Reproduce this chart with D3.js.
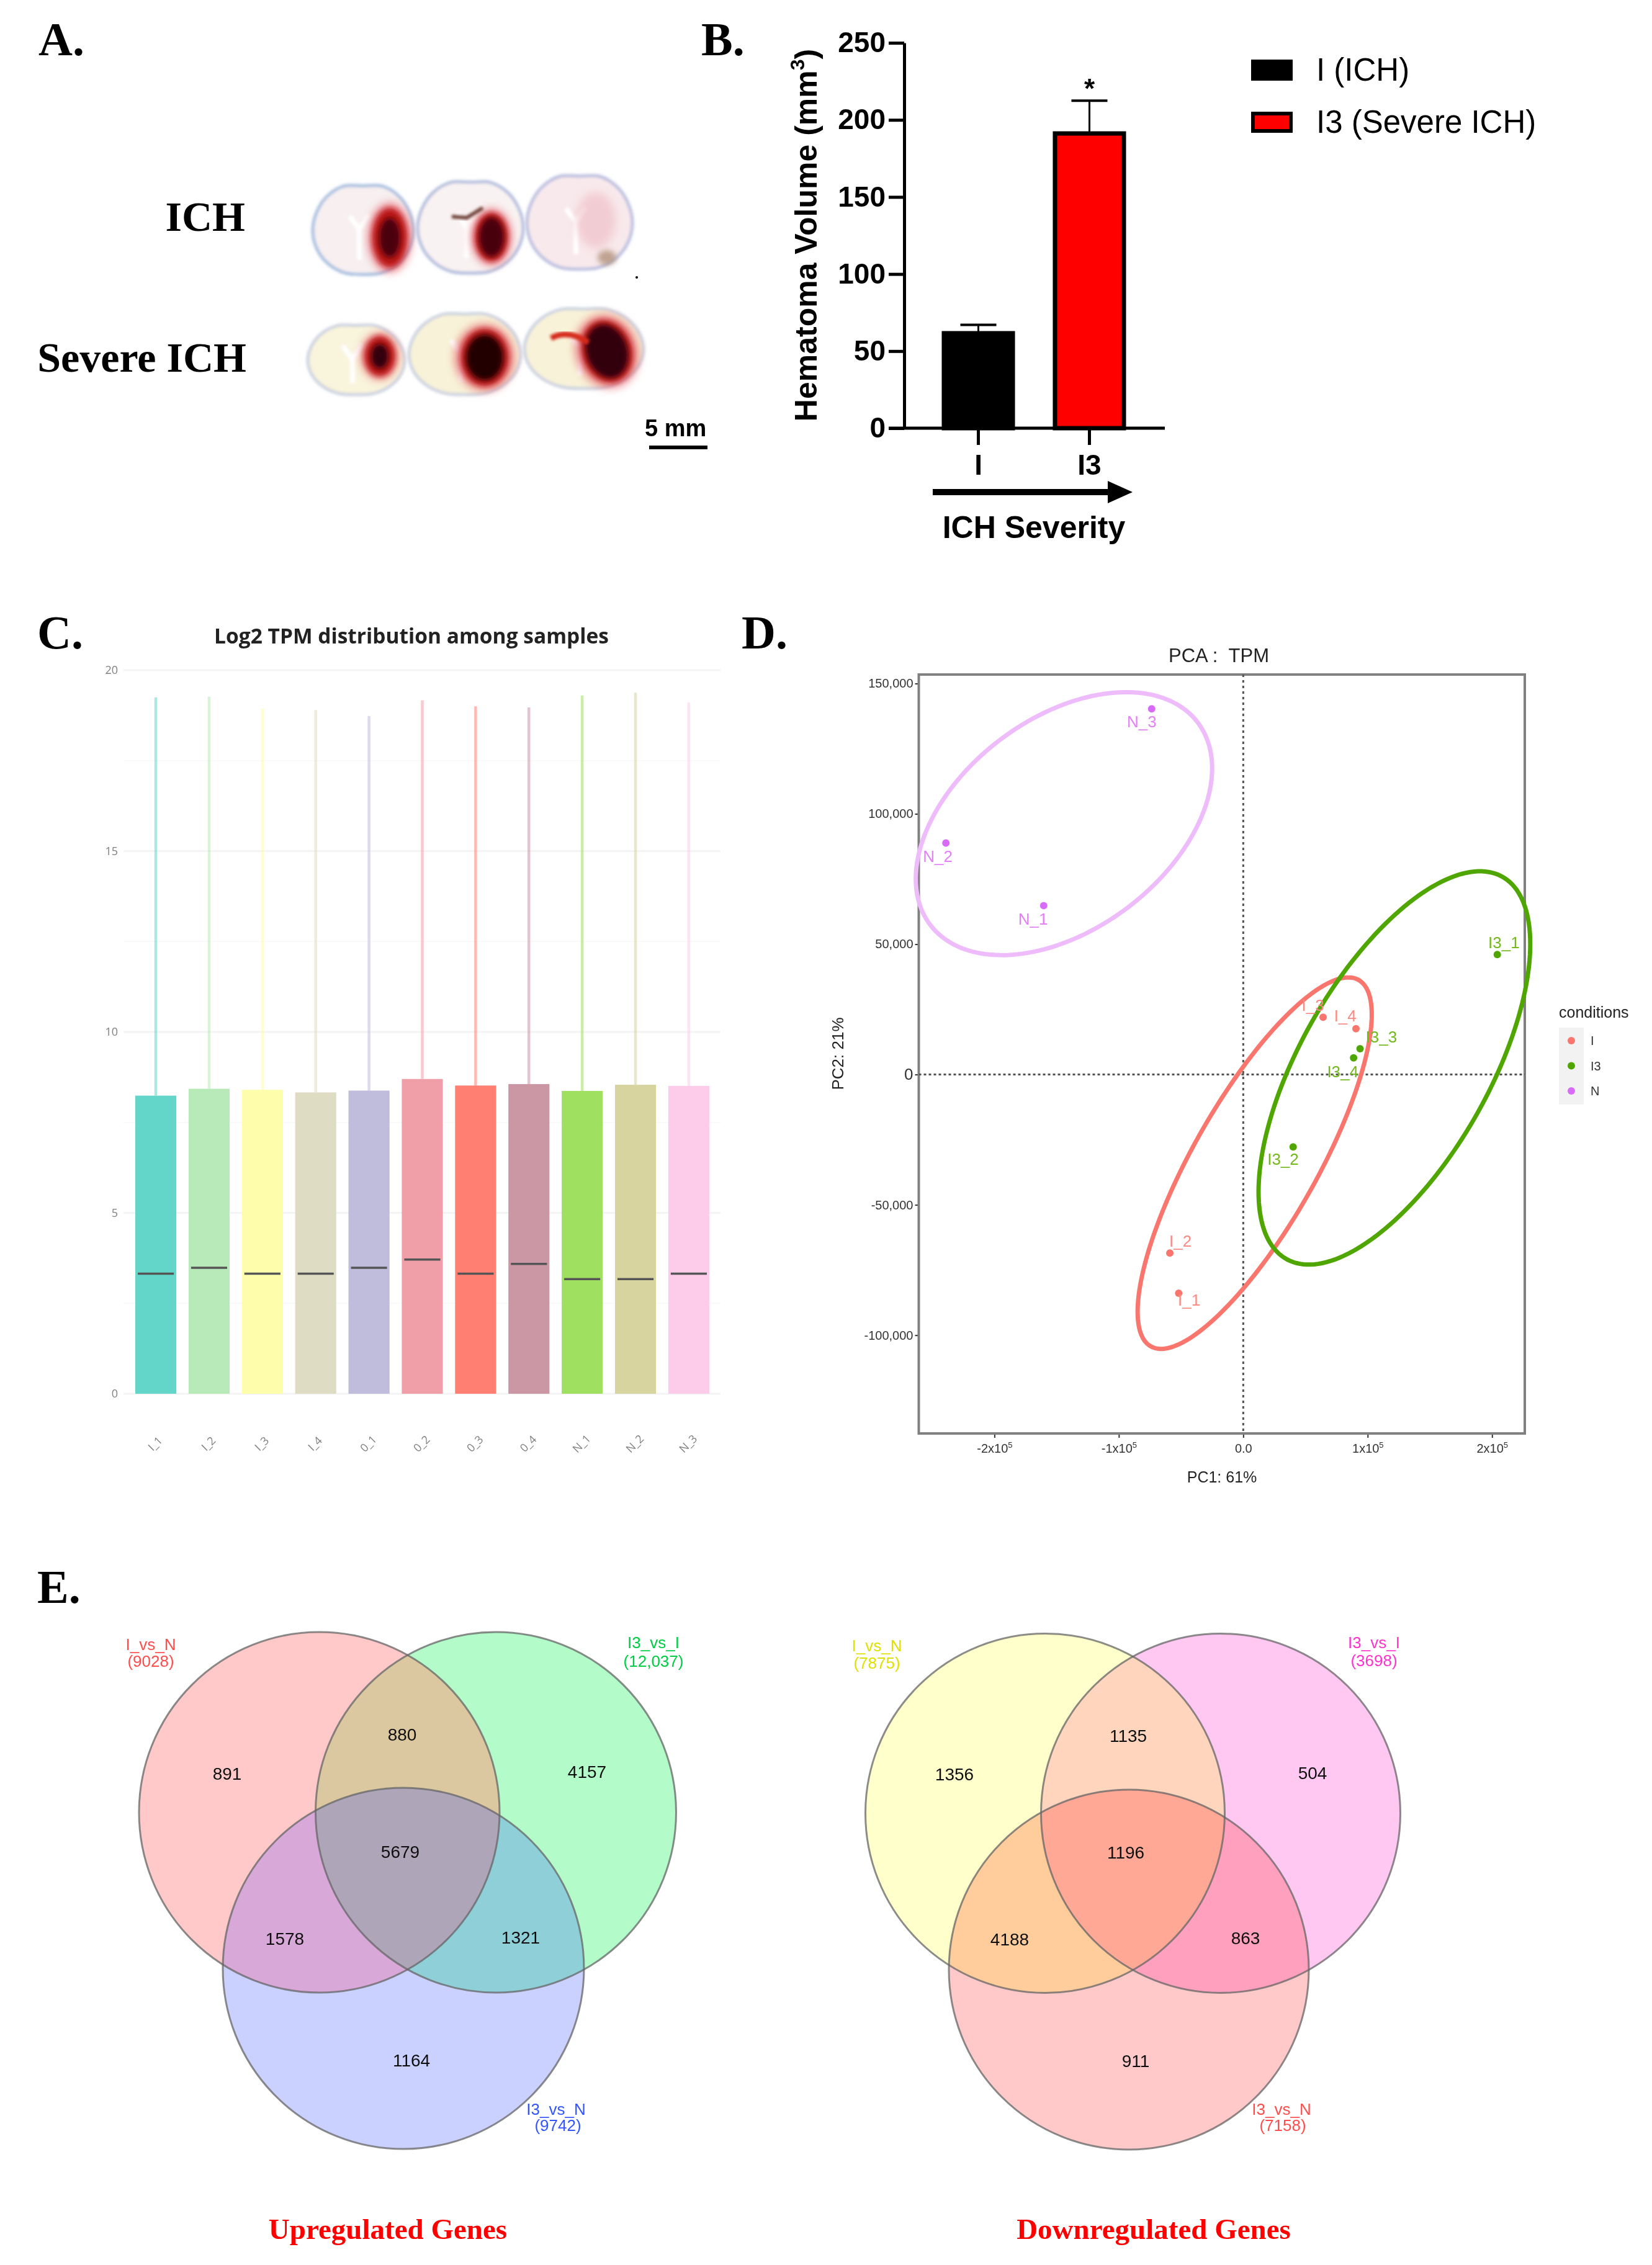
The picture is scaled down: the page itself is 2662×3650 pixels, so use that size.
<!DOCTYPE html>
<html lang="en">

<head>
  <meta charset="utf-8">
  <title>ICH severity figure</title>
  <script src="https://d3js.org/d3.v7.min.js"></script>
  <style>
    body { margin: 0; background: #fff; }
    svg { display: block; }
    text { font-family: "Liberation Sans", Arial, sans-serif; }
    .panel { font-family: "Liberation Serif", serif; font-weight: bold; font-size: 76px; fill: #000; }
    .serif { font-family: "Liberation Serif", serif; font-weight: bold; }
    .axisB path, .axisB line { stroke: #000; stroke-width: 5; }
    .axisB text { font-size: 46px; font-weight: bold; fill: #000; }
    .axisC path { display: none; }
    .axisC line { display: none; }
    .axisC text { font-family: "Open Sans", sans-serif; font-size: 18px; fill: #808080; }
    .axisD path { display: none; }
    .axisD line { stroke: #333; stroke-width: 2; }
    .axisD text { font-size: 20px; fill: #333; }
  </style>
</head>

<body>
  <div id="chart"></div>
  <script>
    // panel B
    const groupsB = ['I', 'I3']
    const volume = [62.8, 192.4]
    const volumeTop = [67, 212.5]
    const legendB = ['I (ICH)', 'I3 (Severe ICH)']
    const ticksB = [0, 50, 100, 150, 200, 250]

    // panel C
    const samples = ['I_1', 'I_2', 'I_3', 'I_4', '0_1', '0_2', '0_3', '0_4', 'N_1', 'N_2', 'N_3']
    const upperQ = [8.24, 8.43, 8.4, 8.33, 8.38, 8.7, 8.52, 8.56, 8.37, 8.54, 8.51]
    const medians = [3.32, 3.48, 3.32, 3.32, 3.48, 3.71, 3.32, 3.59, 3.17, 3.17, 3.32]
    const whiskerTop = [19.25, 19.27, 18.94, 18.9, 18.73, 19.17, 19.0, 18.97, 19.3, 19.38, 19.11]
    const boxColors = ['#64d6c9', '#b7eab8', '#fdfdac', '#dedcc2', '#c0bcdc', '#f09fa9', '#ff8073', '#cb97a4', '#a0e060', '#d8d4a0', '#fcccea']
    const ticksC = [0, 5, 10, 15, 20]
    const minorC = [2.5, 7.5, 12.5, 17.5]

    // panel D
    const pcaNames = ['N_1', 'N_2', 'N_3', 'I_1', 'I_2', 'I_3', 'I_4', 'I3_1', 'I3_2', 'I3_3', 'I3_4']
    const pcaGroup = ['N', 'N', 'N', 'I', 'I', 'I', 'I', 'I3', 'I3', 'I3', 'I3']
    const pc1 = [-160400, -239000, -73600, -51900, -59000, 64200, 90600, 204200, 40100, 93900, 88700]
    const pc2 = [64800, 88800, 140300, -83900, -68500, 22000, 17600, 46000, -27750, 9900, 6400]
    const labelX = [-169000, -245500, -81500, -43500, -50500, 56000, 82000, 209500, 32000, 111000, 80000]
    const labelY = [59600, 83700, 135300, -86500, -63800, 26700, 22500, 50600, -32500, 14500, 1000]
    const ellipseGroup = ['N', 'I', 'I3']
    const ellipseCx = [-144100, 9200, 121500]
    const ellipseCy = [96250, -34000, 2530]
    const ellipseRx = [119100, 94100, 109200]
    const ellipseRy = [50440, 71250, 75440]
    const ellipseRho = [0.42, 0.8, 0.63]
    const conditions = ['I', 'I3', 'N']

    // panel E
    const upCounts = [891, 880, 4157, 5679, 1578, 1321, 1164]
    const downCounts = [1356, 1135, 504, 1196, 4188, 863, 911]
    const upSets = [['I_vs_N', '(9028)'], ['I3_vs_I', '(12,037)'], ['I3_vs_N', '(9742)']]
    const downSets = [['I_vs_N', '(7875)'], ['I3_vs_I', '(3698)'], ['I3_vs_N', '(7158)']]

    const svg = d3.select('#chart').append('svg')
      .attr('width', 2662)
      .attr('height', 3650)
      .attr('viewBox', '0 0 2662 3650')
    const defs = svg.append('defs')
    const addBlur = (id, s) => defs.append('filter').attr('id', id)
      .attr('x', '-30%').attr('y', '-30%').attr('width', '160%').attr('height', '160%')
      .append('feGaussianBlur').attr('stdDeviation', s)
    addBlur('soft', 0.7)
    addBlur('b2', 2)
    addBlur('b4', 4)
    addBlur('b7', 7)
    const root = svg.append('g').attr('filter', 'url(#soft)')

    const panelLabel = (t, x, y) => root.append('text').attr('class', 'panel').attr('x', x).attr('y', y).text(t)
    panelLabel('A.', 62, 89)
    panelLabel('B.', 1130, 89)
    panelLabel('C.', 60, 1045)
    panelLabel('D.', 1195, 1045)
    panelLabel('E.', 60, 2583)

    // ---------- A: tissue slices (sketched, the photo is not data)
    const gA = root.append('g')
    gA.append('text').attr('class', 'serif').attr('x', 395).attr('y', 372).attr('text-anchor', 'end').attr('font-size', 68).text('ICH')
    gA.append('text').attr('class', 'serif').attr('x', 397).attr('y', 599).attr('text-anchor', 'end').attr('font-size', 68).text('Severe ICH')

    const outline = [0.93, 1, 1.01, 1, 1, 0.99, 0.97, 0.94, 0.9, 0.94, 0.97, 0.99, 1, 1, 1.01, 1]
    const sliceLine = d3.line().curve(d3.curveCatmullRomClosed)
    const slices = [
      { c: [585, 372], r: [81, 78], base: '#f7eff0', edge: '#a8c0e0', core: '#4c0410', les: [628, 383, 32, 56, 17, 32, 0] },
      { c: [758, 368], r: [85, 80], base: '#f9f2f2', edge: '#b4bedd', core: '#4a0410', les: [792, 382, 30, 46, 20, 32, 0] },
      { c: [934, 360], r: [85, 82], base: '#f8e9ec', edge: '#bcc0e0', core: null, les: null },
      { c: [574, 581], r: [78, 61], base: '#f9f4dc', edge: '#cdd3e0', core: '#300408', les: [612, 574, 28, 38, 14, 20, 0] },
      { c: [749, 572], r: [90, 71], base: '#f8f2d8', edge: '#cdd3e0', core: '#200204', les: [781, 576, 44, 54, 30, 37, 0] },
      { c: [941, 563], r: [96, 70], base: '#f8f2d8', edge: '#cdd3e0', core: '#300408', les: [978, 566, 46, 60, 33, 44, -18] }
    ]
    slices.forEach((s) => {
      const n = outline.length
      const pts = outline.map((f, i) => {
        const a = (i / n) * 2 * Math.PI
        return [s.c[0] + s.r[0] * f * Math.sin(a), s.c[1] - s.r[1] * f * Math.cos(a)]
      })
      const g = gA.append('g')
      g.append('path').attr('d', sliceLine(pts)).attr('fill', s.base)
        .attr('stroke', s.edge).attr('stroke-width', 5).attr('filter', 'url(#b2)')
      // white midline, forks towards the top
      g.append('path')
        .attr('d', `M${s.c[0] - 22} ${s.c[1] - 24} L${s.c[0] - 6} ${s.c[1] - 2} L${s.c[0] + 10} ${s.c[1] - 26} M${s.c[0] - 6} ${s.c[1] - 2} L${s.c[0] - 6} ${s.c[1] + s.r[1] * 0.6}`)
        .attr('fill', 'none').attr('stroke', '#fff').attr('stroke-width', 8).attr('filter', 'url(#b2)')
      if (s.les) {
        const l = s.les
        const t = `rotate(${l[6]} ${l[0]} ${l[1]})`
        g.append('ellipse').attr('cx', l[0]).attr('cy', l[1]).attr('rx', l[2] * 1.1).attr('ry', l[3])
          .attr('transform', t).attr('fill', '#e4606a').attr('opacity', 0.75).attr('filter', 'url(#b7)')
        g.append('ellipse').attr('cx', l[0]).attr('cy', l[1]).attr('rx', l[2] * 0.88).attr('ry', l[3] * 0.85)
          .attr('transform', t).attr('fill', '#bb1218').attr('filter', 'url(#b4)')
        g.append('ellipse').attr('cx', l[0]).attr('cy', l[1]).attr('rx', l[4]).attr('ry', l[5])
          .attr('transform', t).attr('fill', s.core).attr('filter', 'url(#b4)')
      }
    })
    // streaks: first-row third slice wash, last slice bleed
    gA.append('ellipse').attr('cx', 960).attr('cy', 355).attr('rx', 32).attr('ry', 45)
      .attr('fill', '#eeb9c2').attr('opacity', 0.6).attr('filter', 'url(#b7)')
    gA.append('ellipse').attr('cx', 978).attr('cy', 415).attr('rx', 15).attr('ry', 12)
      .attr('fill', '#a8866a').attr('opacity', 0.7).attr('filter', 'url(#b4)')
    gA.append('path').attr('d', 'M888 545 Q915 530 948 552').attr('fill', 'none')
      .attr('stroke', '#d62a1a').attr('stroke-width', 9).attr('filter', 'url(#b2)')
    gA.append('path').attr('d', 'M728 349 L752 351 L778 335').attr('fill', 'none')
      .attr('stroke', '#6e4038').attr('stroke-width', 6).attr('filter', 'url(#b2)')
    gA.append('circle').attr('cx', 1026).attr('cy', 447).attr('r', 2).attr('fill', '#000')
    gA.append('text').attr('x', 1039).attr('y', 703).attr('font-size', 38).attr('font-weight', 'bold').text('5 mm')
    gA.append('line').attr('x1', 1046).attr('x2', 1140).attr('y1', 721).attr('y2', 721)
      .attr('stroke', '#000').attr('stroke-width', 6)

    // ---------- B: hematoma volume
    const gB = root.append('g')
    const xB = d3.scaleBand().domain(groupsB).range([1518, 1814]).paddingInner(0.346)
    const yB = d3.scaleLinear().domain([0, 250]).range([690, 69])
    gB.append('g').attr('class', 'axisB').attr('transform', 'translate(1457,0)')
      .call(d3.axisLeft(yB).tickValues(ticksB).tickSize(25).tickSizeOuter(0).tickPadding(5))
    gB.append('g').attr('class', 'axisB').attr('transform', 'translate(0,690)')
      .call(d3.axisBottom(xB).tickSize(27).tickSizeOuter(0).tickPadding(15))
      .call((g) => g.select('.domain').remove())
    gB.append('line').attr('x1', 1432).attr('x2', 1877).attr('y1', yB(0)).attr('y2', yB(0))
      .attr('stroke', '#000').attr('stroke-width', 5)
    gB.selectAll('.bar').data(groupsB).enter().append('rect')
      .attr('x', (d) => xB(d) + 3)
      .attr('y', (d, i) => yB(volume[i]) + 3)
      .attr('width', xB.bandwidth() - 6)
      .attr('height', (d, i) => yB(0) - yB(volume[i]) - 3)
      .attr('fill', (d, i) => (i === 0 ? '#000' : '#ff0000'))
      .attr('stroke', '#000')
      .attr('stroke-width', 7)
    groupsB.forEach((d, i) => {
      const cx = xB(d) + xB.bandwidth() / 2
      gB.append('line').attr('x1', cx).attr('x2', cx).attr('y1', yB(volume[i])).attr('y2', yB(volumeTop[i]))
        .attr('stroke', '#000').attr('stroke-width', 3)
      gB.append('line').attr('x1', cx - 29).attr('x2', cx + 29).attr('y1', yB(volumeTop[i])).attr('y2', yB(volumeTop[i]))
        .attr('stroke', '#000').attr('stroke-width', 4)
    })
    gB.append('text').attr('x', xB('I3') + xB.bandwidth() / 2).attr('y', 158).attr('text-anchor', 'middle')
      .attr('font-size', 44).attr('font-weight', 'bold').text('*')
    const volTitle = gB.append('text').attr('transform', 'translate(1316,379) rotate(-90)').attr('text-anchor', 'middle')
      .attr('font-size', 50).attr('font-weight', 'bold')
    volTitle.append('tspan').text('Hematoma Volume (mm')
    volTitle.append('tspan').attr('font-size', 32).attr('dy', -20).text('3')
    volTitle.append('tspan').attr('dy', 20).text(')')
    gB.append('path').attr('d', 'M1503 788 H1785 V775 L1825 793 L1785 811 V798 H1503 Z').attr('fill', '#000')
    gB.append('text').attr('x', 1666).attr('y', 867).attr('text-anchor', 'middle')
      .attr('font-size', 50).attr('font-weight', 'bold').text('ICH Severity')
    const legY = [112, 196]
    legendB.forEach((t, i) => {
      gB.append('rect').attr('x', 2019).attr('y', legY[i] - 13).attr('width', 61).attr('height', 28)
        .attr('fill', i === 0 ? '#000' : '#ff0000').attr('stroke', '#000').attr('stroke-width', 6)
      gB.append('text').attr('x', 2121).attr('y', legY[i] + 18).attr('font-size', 51).text(t)
    })

    // ---------- C: log2 TPM boxes
    const gC = root.append('g')
    const xC = d3.scaleBand().domain(samples).range([218, 1143]).paddingInner(0.23)
    const yC = d3.scaleLinear().domain([0, 20]).range([2246, 1080])
    gC.append('text').attr('x', 663).attr('y', 1037).attr('text-anchor', 'middle')
      .style('font-family', '"Open Sans", sans-serif')
      .attr('font-size', 33.5).attr('font-weight', 'bold').attr('fill', '#222')
      .text('Log2 TPM distribution among samples')
    gC.selectAll('.minor').data(minorC).enter().append('line')
      .attr('x1', 199).attr('x2', 1161).attr('y1', (d) => yC(d)).attr('y2', (d) => yC(d))
      .attr('stroke', '#f9f9f9').attr('stroke-width', 2)
    gC.selectAll('.major').data(ticksC).enter().append('line')
      .attr('x1', 199).attr('x2', 1161).attr('y1', (d) => yC(d)).attr('y2', (d) => yC(d))
      .attr('stroke', '#f4f4f4').attr('stroke-width', 3)
    gC.append('g').attr('class', 'axisC').attr('transform', 'translate(199,0)')
      .call(d3.axisLeft(yC).tickValues(ticksC).tickSize(0).tickPadding(9))
    gC.append('g').attr('class', 'axisC').attr('transform', 'translate(0,2312)')
      .call(d3.axisBottom(xC).tickSize(0).tickPadding(0))
      .selectAll('text')
      .attr('transform', 'rotate(-45)')
      .attr('text-anchor', 'middle')
      .attr('x', -11)
      .attr('y', 3)
    samples.forEach((d, i) => {
      const cx = xC(d) + xC.bandwidth() / 2
      gC.append('line').attr('x1', cx).attr('x2', cx).attr('y1', yC(upperQ[i])).attr('y2', yC(whiskerTop[i]))
        .attr('stroke', boxColors[i]).attr('stroke-width', 4.5).attr('opacity', 0.55)
      gC.append('rect').attr('x', xC(d)).attr('width', xC.bandwidth())
        .attr('y', yC(upperQ[i])).attr('height', yC(0) - yC(upperQ[i]))
        .attr('fill', boxColors[i])
      gC.append('line').attr('x1', xC(d) + 4).attr('x2', xC(d) + xC.bandwidth() - 4)
        .attr('y1', yC(medians[i])).attr('y2', yC(medians[i]))
        .attr('stroke', '#555').attr('stroke-width', 3.5)
    })

    // ---------- D: PCA
    const gD = root.append('g')
    const xD = d3.scaleLinear().domain([-260800, 226300]).range([1480.5, 2457])
    const yD = d3.scaleLinear().domain([-137700, 153450]).range([2310, 1087])
    const groupColor = d3.scaleOrdinal().domain(conditions).range(['#f8766d', '#4fa600', '#d86cf8'])
    const labelColor = d3.scaleOrdinal().domain(conditions).range(['#fa8a82', '#74b81e', '#e480f6'])
    const ringColor = d3.scaleOrdinal().domain(conditions).range(['#f8766d', '#4fa600', '#eebbfb'])
    gD.append('text').attr('x', 1964).attr('y', 1067).attr('text-anchor', 'middle').attr('font-size', 31).attr('fill', '#222').text('PCA :\u00a0\u00a0TPM')
    const sciTick = (d) => (d === 0 ? '0.0' : (d / 100000) + 'x10')
    gD.append('g').attr('class', 'axisD').attr('transform', 'translate(0,2310)')
      .call(d3.axisBottom(xD).tickValues([-200000, -100000, 0, 100000, 200000]).tickFormat(sciTick).tickSize(7).tickPadding(10))
      .selectAll('text').filter((d) => d !== 0)
      .append('tspan').attr('dy', -8).attr('font-size', 13).text('5')
    const yTickFormat = (d) => d3.format(',')(d).replace('\u2212', '-')
    gD.append('g').attr('class', 'axisD').attr('transform', 'translate(1480.5,0)')
      .call(d3.axisLeft(yD).tickValues([-100000, -50000, 0, 50000, 100000, 150000]).tickFormat(yTickFormat).tickSize(6).tickPadding(3))
      .selectAll('text').filter((d) => d === 0).style('font-size', '26px')
    gD.append('rect').attr('x', 1480.5).attr('y', 1087).attr('width', 976.5).attr('height', 1223)
      .attr('fill', 'none').attr('stroke', '#808080').attr('stroke-width', 4)
    gD.append('line').attr('x1', xD(0)).attr('x2', xD(0)).attr('y1', 1087).attr('y2', 2310)
      .attr('stroke', '#555').attr('stroke-width', 3).attr('stroke-dasharray', '4 5')
    gD.append('line').attr('x1', 1480.5).attr('x2', 2457).attr('y1', yD(0)).attr('y2', yD(0))
      .attr('stroke', '#555').attr('stroke-width', 3).attr('stroke-dasharray', '4 4')
    gD.append('text').attr('x', 1969).attr('y', 2389).attr('text-anchor', 'middle').attr('font-size', 25).attr('fill', '#222').text('PC1: 61%')
    gD.append('text').attr('transform', 'translate(1359,1698) rotate(-90)').attr('text-anchor', 'middle').attr('font-size', 26).attr('fill', '#222').text('PC2: 21%')
    // ellipses are given by their half extents and the correlation of the two PCs
    const ringLine = d3.line().curve(d3.curveLinearClosed).x((d) => xD(d[0])).y((d) => yD(d[1]))
    ellipseGroup.forEach((g, i) => {
      const delta = Math.asin(ellipseRho[i])
      const ring = d3.range(0, 2 * Math.PI, Math.PI / 90).map((t) => [
        ellipseCx[i] + ellipseRx[i] * Math.cos(t),
        ellipseCy[i] + ellipseRy[i] * Math.sin(t + delta)
      ])
      gD.append('path').attr('d', ringLine(ring)).attr('fill', 'none')
        .attr('stroke', ringColor(g)).attr('stroke-width', 7)
    })
    gD.selectAll('.pt').data(pcaNames).enter().append('circle')
      .attr('cx', (d, i) => xD(pc1[i]))
      .attr('cy', (d, i) => yD(pc2[i]))
      .attr('r', 6)
      .attr('fill', (d, i) => groupColor(pcaGroup[i]))
    gD.selectAll('.lb').data(pcaNames).enter().append('text')
      .attr('x', (d, i) => xD(labelX[i]))
      .attr('y', (d, i) => yD(labelY[i]))
      .attr('dy', '0.35em')
      .attr('text-anchor', 'middle')
      .attr('font-size', 26)
      .attr('fill', (d, i) => labelColor(pcaGroup[i]))
      .text((d) => d)
    gD.append('text').attr('x', 2512).attr('y', 1640).attr('font-size', 25).attr('fill', '#222').text('conditions')
    gD.append('rect').attr('x', 2512).attr('y', 1656).attr('width', 40).attr('height', 124).attr('fill', '#f2f2f2')
    const legD = d3.scalePoint().domain(conditions).range([1677, 1758])
    conditions.forEach((c) => {
      gD.append('circle').attr('cx', 2532).attr('cy', legD(c)).attr('r', 6).attr('fill', groupColor(c))
      gD.append('text').attr('x', 2563).attr('y', legD(c)).attr('dy', '0.35em').attr('font-size', 20).attr('fill', '#333').text(c)
    })

    // ---------- E: Venn diagrams, each region gets its own colour through clip paths
    function drawVenn(o) {
      const g = root.append('g')
      const clip = (k, c, parent) => {
        const cp = defs.append('clipPath').attr('id', o.id + k)
        if (parent) cp.attr('clip-path', 'url(#' + o.id + parent + ')')
        cp.append('circle').attr('cx', c[0]).attr('cy', c[1]).attr('r', c[2])
      }
      const [a, b, c] = o.circles
      clip('A', a)
      clip('B', b)
      clip('AB', b, 'A')
      const disc = (k, fill, clipId) => g.append('circle')
        .attr('cx', k[0]).attr('cy', k[1]).attr('r', k[2]).attr('fill', fill)
        .attr('clip-path', clipId ? 'url(#' + o.id + clipId + ')' : null)
      disc(a, o.fills[0])
      disc(b, o.fills[1])
      disc(c, o.fills[2])
      disc(b, o.fills[3], 'A')
      disc(c, o.fills[4], 'A')
      disc(c, o.fills[5], 'B')
      disc(c, o.fills[6], 'AB')
      o.circles.forEach((k) => {
        g.append('circle').attr('cx', k[0]).attr('cy', k[1]).attr('r', k[2])
          .attr('fill', 'none').attr('stroke', '#666').attr('stroke-opacity', 0.75).attr('stroke-width', 3)
      })
      g.selectAll('.n').data(o.counts).enter().append('text')
        .attr('x', (d, i) => o.countAt[i][0])
        .attr('y', (d, i) => o.countAt[i][1])
        .attr('dy', '0.35em')
        .attr('text-anchor', 'middle')
        .attr('font-size', 28)
        .attr('fill', '#111')
        .text((d) => d)
      o.sets.forEach((s, i) => {
        const at = o.setAt[i]
        g.append('text').attr('x', at[0]).attr('y', at[1]).attr('dy', '0.35em').attr('text-anchor', 'middle')
          .attr('font-size', 26).attr('fill', o.setColors[i]).text(s[0])
        g.append('text').attr('x', at[2]).attr('y', at[3]).attr('dy', '0.35em').attr('text-anchor', 'middle')
          .attr('font-size', 26).attr('fill', o.setColors[i]).text(s[1])
      })
      g.append('text').attr('class', 'serif').attr('x', o.title[1]).attr('y', 3608).attr('text-anchor', 'middle')
        .attr('font-size', 47).attr('fill', '#ff0000').text(o.title[0])
    }
    drawVenn({
      id: 'up',
      circles: [[514.5, 2920.5, 290.5], [799, 2920.5, 290.5], [650, 3172, 291]],
      // A, B, C, AB, AC, BC, ABC
      fills: ['#ffc9c9', '#b3fcc9', '#cbd1ff', '#dcc8a0', '#d8a8d8', '#8fd0d8', '#aea5b9'],
      counts: upCounts,
      countAt: [[366, 2858], [648, 2795], [946, 2855], [645, 2984], [459, 3124], [839, 3122], [663, 3320]],
      sets: upSets,
      setAt: [[243, 2650, 243, 2677], [1053, 2647, 1053, 2677], [896, 3399, 899, 3425]],
      setColors: ['#ff4d4d', '#00cc44', '#3355ff'],
      title: ['Upregulated Genes', 625]
    })
    drawVenn({
      id: 'down',
      circles: [[1684, 2922, 289.5], [1967, 2922, 289.5], [1819, 3174, 290]],
      fills: ['#ffffcc', '#ffc8f2', '#ffc9c9', '#ffd6bd', '#ffcc9c', '#ffa0bf', '#ffa896'],
      counts: downCounts,
      countAt: [[1538, 2859], [1818, 2797], [2115, 2857], [1814, 2985], [1627, 3125], [2007, 3123], [1830, 3321]],
      sets: downSets,
      setAt: [[1413, 2652, 1413, 2680], [2214, 2647, 2214, 2676], [2065, 3399, 2067, 3425]],
      setColors: ['#dfe000', '#ff33cc', '#ff4d4d'],
      title: ['Downregulated Genes', 1859]
    })
  </script>
</body>

</html>
